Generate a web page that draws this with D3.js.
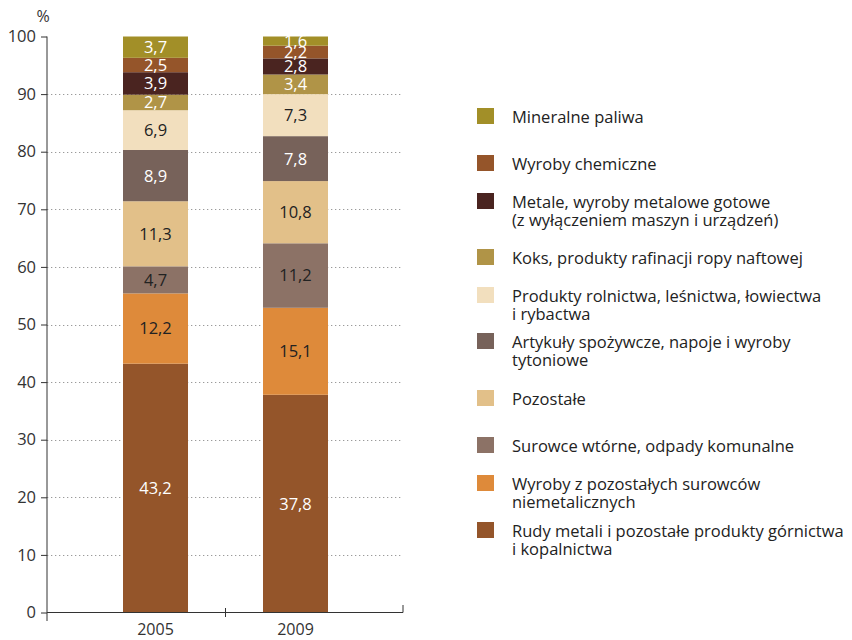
<!DOCTYPE html>
<html><head><meta charset="utf-8">
<script src="https://cdn.jsdelivr.net/npm/d3@7/dist/d3.min.js"></script>
<style>
body{margin:0;background:#fff;}
text{font-family:"Open Sans",sans-serif;}
</style></head>
<body>
<svg id="chart" width="852" height="640"></svg>
<script>
// ---- data ----
const years = ["2005", "2009"];
const categories = [
  "Rudy metali i pozostałe produkty górnictwa i kopalnictwa",
  "Wyroby z pozostałych surowców niemetalicznych",
  "Surowce wtórne, odpady komunalne",
  "Pozostałe",
  "Artykuły spożywcze, napoje i wyroby tytoniowe",
  "Produkty rolnictwa, leśnictwa, łowiectwa i rybactwa",
  "Koks, produkty rafinacji ropy naftowej",
  "Metale, wyroby metalowe gotowe (z wyłączeniem maszyn i urządzeń)",
  "Wyroby chemiczne",
  "Mineralne paliwa"
];
const values2005 = [43.2, 12.2, 4.7, 11.3, 8.9, 6.9, 2.7, 3.9, 2.5, 3.7];
const values2009 = [37.8, 15.1, 11.2, 10.8, 7.8, 7.3, 3.4, 2.8, 2.2, 1.6];
const yTicks = [0, 10, 20, 30, 40, 50, 60, 70, 80, 90, 100];
// legend line breaks (top-to-bottom legend order)
const legendLines = [
  ["Mineralne paliwa"],
  ["Wyroby chemiczne"],
  ["Metale, wyroby metalowe gotowe", "(z wyłączeniem maszyn i urządzeń)"],
  ["Koks, produkty rafinacji ropy naftowej"],
  ["Produkty rolnictwa, leśnictwa, łowiectwa", "i rybactwa"],
  ["Artykuły spożywcze, napoje i wyroby", "tytoniowe"],
  ["Pozostałe"],
  ["Surowce wtórne, odpady komunalne"],
  ["Wyroby z pozostałych surowców", "niemetalicznych"],
  ["Rudy metali i pozostałe produkty górnictwa", "i kopalnictwa"]
];

// ---- styles ----
const colors = ["#94552a", "#de8a3a", "#8c7266", "#e2c089", "#77625a", "#f2dfbe", "#b09447", "#4a2420", "#95552a", "#a28f28"];
const labelColors = ["#fff", "#222", "#222", "#222", "#fff", "#222", "#fff", "#fff", "#fff", "#fff"];
const legendTops = [108, 155, 193, 249, 287, 333, 390, 437, 475, 522];

const svg = d3.select("#chart");
const axisColor = "#333";
const y = d3.scaleLinear().domain([0, 100]).range([612.5, 36.5]);
const x = d3.scaleBand().domain(years).range([85.5, 365.5]).paddingInner(0.5357).paddingOuter(0.2679);
const xLeft = 47, xRight = 403;

// gridlines
svg.append("g").selectAll("line").data(yTicks.filter(t => t > 0 && t < 100)).join("line")
  .attr("x1", xLeft).attr("x2", xRight)
  .attr("y1", d => Math.round(y(d)) + 0.5).attr("y2", d => Math.round(y(d)) + 0.5)
  .attr("stroke", "#9a9a9a").attr("stroke-width", 1).attr("stroke-dasharray", "1.3,2.7");

// stacked data
const rows = years.map((yr, i) => {
  const vals = i === 0 ? values2005 : values2009;
  let acc = 0;
  return vals.map((v, k) => { const r = {year: yr, k, v, y0: acc, y1: acc + v}; acc += v; return r; });
});
const segs = rows.flat();

svg.append("g").selectAll("rect").data(segs).join("rect")
  .attr("x", d => x(d.year)).attr("width", x.bandwidth())
  .attr("y", d => y(d.y1)).attr("height", d => y(d.y0) - y(d.y1))
  .attr("fill", d => colors[d.k]);

svg.append("g").selectAll("text").data(segs).join("text")
  .attr("x", d => x(d.year) + x.bandwidth() / 2)
  .attr("y", d => (y(d.y0) + y(d.y1)) / 2)
  .attr("dy", "0.36em")
  .attr("text-anchor", "middle")
  .attr("font-size", 16.5)
  .attr("fill", d => labelColors[d.k])
  .text(d => d3.format(".1f")(d.v).replace(".", ","));

// y axis
const yAxis = d3.axisLeft(y).tickValues(yTicks).tickSize(6).tickPadding(5).tickFormat(d3.format("d"));
const gy = svg.append("g").attr("transform", `translate(${xLeft},0)`).call(yAxis);
gy.select(".domain").remove();
gy.selectAll(".tick line").attr("stroke", axisColor);
gy.selectAll(".tick text").attr("font-size", 16.5).attr("fill", "#333").attr("font-family", "Open Sans");
svg.append("line").attr("x1", xLeft).attr("x2", xLeft).attr("y1", y(100)).attr("y2", 621).attr("stroke", axisColor);

svg.append("text").attr("x", 43).attr("y", 22).attr("text-anchor", "middle").attr("font-size", 16).attr("fill", "#333").text("%");

// x axis
svg.append("line").attr("x1", xLeft).attr("x2", xRight).attr("y1", y(0)).attr("y2", y(0)).attr("stroke", axisColor);
svg.append("line").attr("x1", 225.5).attr("x2", 225.5).attr("y1", 608).attr("y2", 617).attr("stroke", axisColor);
svg.append("line").attr("x1", xRight).attr("x2", xRight).attr("y1", 605).attr("y2", y(0)).attr("stroke", axisColor);
svg.append("g").selectAll("text").data(years).join("text")
  .attr("x", d => x(d) + x.bandwidth() / 2).attr("y", 635)
  .attr("text-anchor", "middle").attr("font-size", 16).attr("fill", "#333").text(d => d);

// legend
const lg = svg.append("g").selectAll("g").data(legendLines).join("g")
  .attr("transform", (d, i) => `translate(477,${legendTops[i]})`);
lg.append("rect").attr("width", 17).attr("height", 16)
  .attr("fill", (d, i) => colors[colors.length - 1 - i]);
lg.each(function(lines) {
  const t = d3.select(this).append("text").attr("x", 35).attr("y", 15).attr("font-size", 16.5).attr("fill", "#222");
  lines.forEach((l, j) => t.append("tspan").attr("x", 35).attr("dy", j === 0 ? 0 : 18).text(l));
});
</script>
</body></html>
